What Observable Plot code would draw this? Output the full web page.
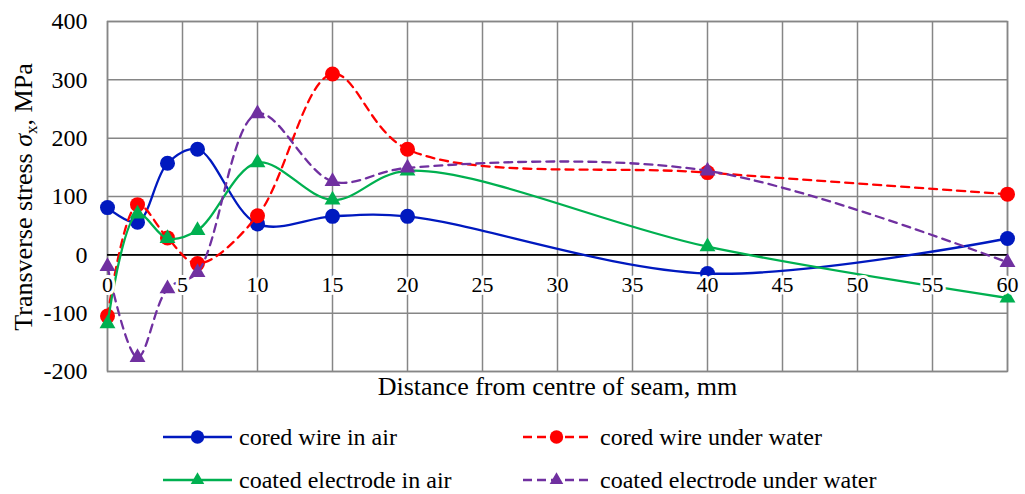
<!DOCTYPE html>
<html>
<head>
<meta charset="utf-8">
<script src="https://cdn.jsdelivr.net/npm/d3@7"></script>
<script src="https://cdn.jsdelivr.net/npm/@observablehq/plot@0.6"></script>
</head>
<body style="margin:0;background:#fff;font-family:'Liberation Serif'">
<div id="wrap" style="position:relative;width:1025px;height:494px;font-family:'Liberation Serif'"><div id="chart"></div><div id="legend" style="position:absolute;left:0;top:0;width:1025px;height:494px;font-family:'Liberation Serif'"></div></div>
<script>
const distance = [0, 2, 4, 6, 10, 15, 20, 40, 60];
const coredWireAir = [81, 56, 157, 181, 53, 66, 66, -32, 28];
const coredWireWater = [-105, 86, 29, -15, 67, 310, 181, 141, 104];
const coatedElectrodeAir = [-118, 70, 28, 42, 158, 94, 144, 14, -74];
const coatedElectrodeWater = [-20, -176, -58, -30, 242, 126, 149, 144, -13];
const seriesNames = ["cored wire in air", "cored wire under water", "coated electrode in air", "coated electrode under water"];
const seriesColors = ["#0019BF", "#FF0000", "#00B050", "#7030A0"];
const seriesDash = [null, "8,6", null, "8,6"];
const seriesSymbol = ["circle", "circle", "triangle", "triangle"];
const xTicks = [0, 5, 10, 15, 20, 25, 30, 35, 40, 45, 50, 55, 60];
const yTicks = [-200, -100, 0, 100, 200, 300, 400];

const FONT = "Liberation Serif";
const allSeries = [coredWireAir, coredWireWater, coatedElectrodeAir, coatedElectrodeWater];
const rows = allSeries.map((vals, i) => distance.map((d, j) => ({x: d, y: vals[j], s: i})));

const marks = [
  Plot.gridX(xTicks, {stroke: "#868686", strokeOpacity: 1, strokeWidth: 1.5}),
  Plot.gridY(yTicks, {stroke: "#868686", strokeOpacity: 1, strokeWidth: 1.5}),
  Plot.frame({stroke: "#868686", strokeWidth: 1.5}),
  Plot.ruleY([0], {stroke: "#000", strokeWidth: 1.8}),
  Plot.axisY(yTicks, {tickSize: 0, tickPadding: 20, fontSize: 24, fontFamily: FONT, label: null, tickFormat: d => String(d)}),
  Plot.axisX({ticks: [], label: null, tickSize: 0})
];
rows.forEach((r, i) => {
  marks.push(Plot.line(r, {x: "x", y: "y", curve: "catmull-rom", stroke: seriesColors[i], strokeWidth: 2.3, strokeDasharray: seriesDash[i]}));
  marks.push(Plot.dot(r, {x: "x", y: "y", symbol: seriesSymbol[i], r: seriesSymbol[i] === "circle" ? 7.5 : 5.9, fill: seriesColors[i], stroke: "none"}));
});
marks.push(Plot.text(xTicks, {x: d => d, y: () => 0, text: d => String(d), dy: 30, fontSize: 22, fontFamily: FONT, fill: "#000", stroke: "white", strokeWidth: 6}));
marks.push(Plot.text(["Distance from centre of seam, mm"], {frameAnchor: "bottom", dy: 23, fontSize: 26, fontFamily: FONT, fill: "#000"}));

const plot = Plot.plot({
  width: 1025,
  height: 415,
  marginLeft: 107,
  marginRight: 18,
  marginTop: 21,
  marginBottom: 44,
  x: {domain: [0, 60]},
  y: {domain: [-200, 400]},
  style: {fontFamily: FONT, fontSize: "22px", background: "white", color: "#000"},
  marks
});
document.getElementById("chart").appendChild(plot);

const svg = d3.select(plot);
svg.selectAll("text").style("font-family", FONT);

// y axis title with italic sigma and subscript x
const t = svg.append("text")
  .attr("transform", "translate(32,197) rotate(-90)")
  .attr("text-anchor", "middle")
  .attr("font-family", FONT)
  .style("font-family", FONT)
  .attr("font-size", 26)
  .attr("fill", "#000");
t.append("tspan").text("Transverse stress ");
t.append("tspan").attr("font-style", "italic").text("σ");
t.append("tspan").attr("font-size", 17).attr("dy", 5).text("x");
t.append("tspan").attr("dy", -5).text(", MPa");

// legend
const legendPos = [[163, 437, 69], [523, 437, 67], [163, 480, 69], [523, 480, 67]];
const legend = document.getElementById("legend");
seriesNames.forEach((name, i) => {
  const [lx, ly, w] = legendPos[i];
  const div = document.createElement("div");
  div.setAttribute("style", `position:absolute;display:flex;align-items:center;height:30px;font-size:24px;color:#000;white-space:nowrap;font-family:'Liberation Serif';left:${lx}px;top:${ly - 15}px`);
  const s = d3.create("svg").attr("width", w).attr("height", 30).attr("style", `display:block;margin-right:${i % 2 === 0 ? 7 : 10}px`);
  s.append("line").attr("x1", 0).attr("x2", w).attr("y1", 15).attr("y2", 15)
    .attr("stroke", seriesColors[i]).attr("stroke-width", 2.3)
    .attr("stroke-dasharray", seriesDash[i] ? "9,5" : null);
  const sym = seriesSymbol[i] === "circle" ? d3.symbolCircle : d3.symbolTriangle;
  const size = seriesSymbol[i] === "circle" ? Math.PI * 6.7 * 6.7 : 80;
  s.append("path").attr("d", d3.symbol(sym, size)()).attr("transform", `translate(${w / 2},15)`).attr("fill", seriesColors[i]);
  div.appendChild(s.node());
  const span = document.createElement("span");
  span.setAttribute("style", "font-family:'Liberation Serif';line-height:30px");
  span.textContent = name;
  div.appendChild(span);
  legend.appendChild(div);
});
</script>
</body>
</html>
